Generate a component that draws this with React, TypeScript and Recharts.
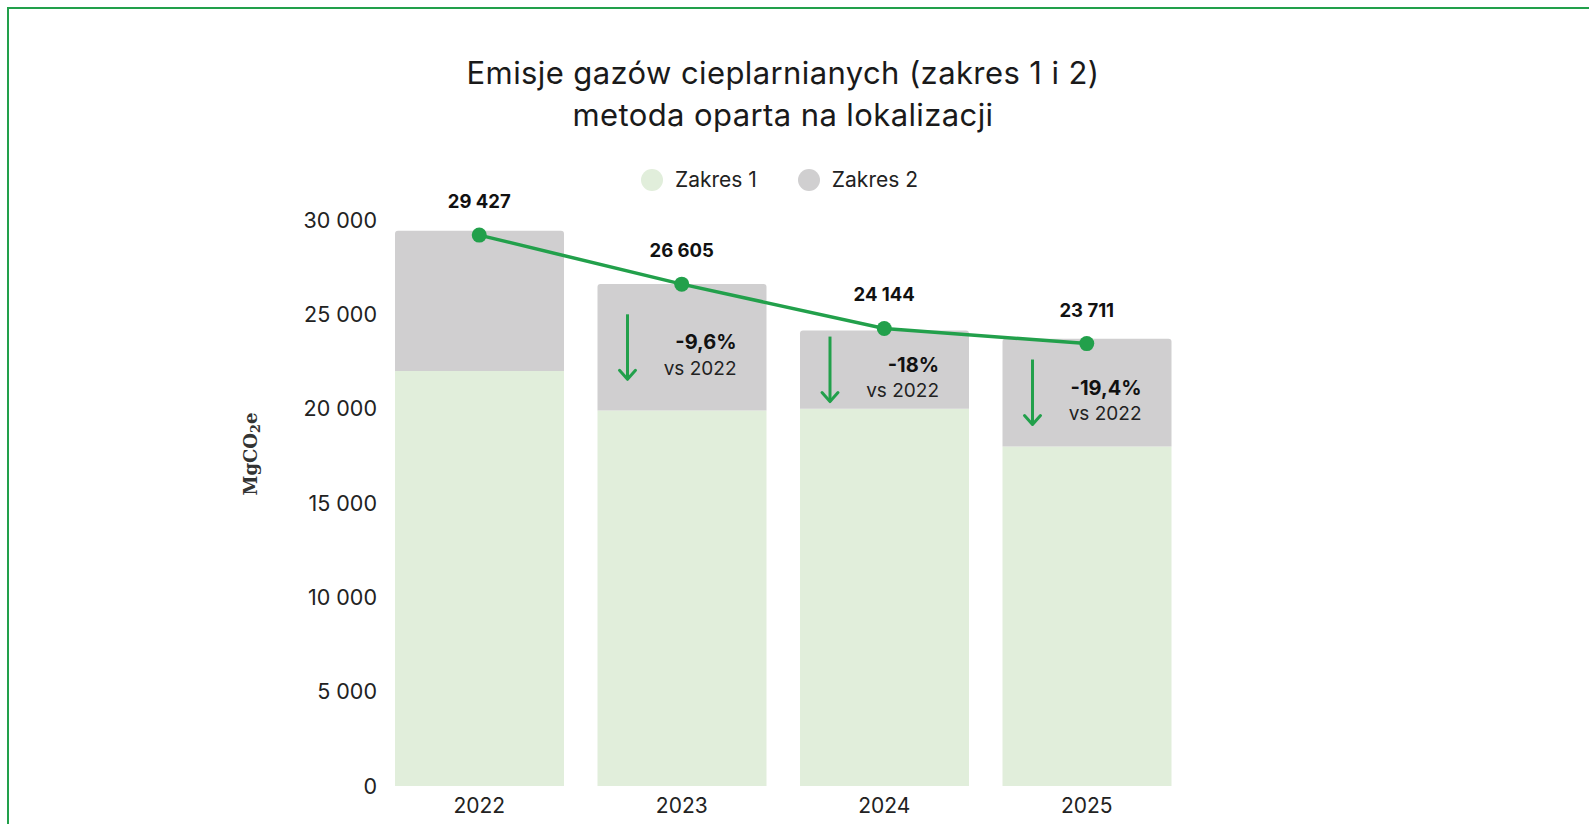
import React from 'react';
import { ComposedChart, Bar, Line, XAxis, YAxis, Legend, LabelList, Rectangle, Label } from 'recharts';

const years = ['2022', '2023', '2024', '2025'];
const scope1 = [22000, 19900, 20000, 18000];
const scope2 = [7427, 6705, 4144, 5711];
// line points as drawn (slightly below the bar tops in the original)
const trend = [29200, 26600, 24250, 23450];
const totals = [29427, 26605, 24144, 23711];
const changeVs2022 = ['', '-9,6%', '-18%', '-19,4%'];
const yTicks = [0, 5000, 10000, 15000, 20000, 25000, 30000];

const GREEN = '#22a04b';
const SCOPE1 = '#e1eedb';
const SCOPE2 = '#d0cfd0';
const FONT = 'Inter, "Noto Sans", sans-serif';

const fmt = (v: number) => String(v).replace(/\B(?=(\d{3})+(?!\d))/g, ' ');

const data = years.map((year, i) => ({
  year,
  scope1: scope1[i],
  scope2: scope2[i],
  trend: trend[i],
  totalLabel: fmt(totals[i]),
  pct: changeVs2022[i],
}));

const legendItems = [
  { name: 'Zakres 1', color: SCOPE1 },
  { name: 'Zakres 2', color: SCOPE2 },
];

function Scope2Shape(props: any) {
  const { x, y, width, height, payload } = props;
  const pct = payload?.pct;
  const cy = y + height / 2;
  const ax = x + 30;
  return (
    <g>
      <Rectangle x={x} y={y} width={width} height={height} fill={SCOPE2} radius={[3, 3, 0, 0]} />
      {pct ? (
        <g>
          <line x1={ax} x2={ax} y1={cy - 33} y2={cy + 32} stroke={GREEN} strokeWidth={3} />
          <polyline
            points={`${ax - 8},${cy + 23} ${ax},${cy + 32} ${ax + 8},${cy + 23}`}
            fill="none"
            stroke={GREEN}
            strokeWidth={3}
            strokeLinecap="round"
            strokeLinejoin="round"
          />
          <text x={x + width - 30} y={cy - 5} textAnchor="end" dominantBaseline="central"
            fontFamily={FONT} fontWeight={700} fontSize={20} fill="#111">
            {pct}
          </text>
          <text x={x + width - 30} y={cy + 21} textAnchor="end" dominantBaseline="central"
            fontFamily={FONT} fontSize={19} fill="#222">
            vs 2022
          </text>
        </g>
      ) : null}
    </g>
  );
}

function TotalLabel(props: any) {
  const { x, y, value } = props;
  return (
    <text x={x} y={y - 34} textAnchor="middle" dominantBaseline="central"
      fontFamily={FONT} fontWeight={700} fontSize={18.5} fill="#111">
      {value}
    </text>
  );
}

function UnitLabel(props: any) {
  const { viewBox } = props;
  const cx = viewBox.x - 28;
  const cy = viewBox.y + 234;
  return (
    <text x={cx} y={cy} transform={`rotate(-90, ${cx}, ${cy})`} textAnchor="middle"
      dominantBaseline="central" fontFamily='"DejaVu Serif", serif' fontWeight={700}
      fontSize={18} fill="#333">
      MgCO<tspan dy={5} fontSize={13}>2</tspan><tspan dy={-5}>e</tspan>
    </text>
  );
}

function LegendContent() {
  return (
    <div style={{ display: 'flex', alignItems: 'center', gap: 41, fontFamily: FONT, fontSize: 21, color: '#222' }}>
      {legendItems.map((it) => (
        <div key={it.name} style={{ display: 'flex', alignItems: 'center', gap: 12 }}>
          <span style={{ width: 22, height: 22, borderRadius: '50%', background: it.color, display: 'inline-block' }} />
          <span style={{ lineHeight: '22px' }}>{it.name}</span>
        </div>
      ))}
    </div>
  );
}

export default function App() {
  return (
    <div style={{ position: 'fixed', left: 0, top: 0, width: 1589, height: 824, background: '#fff', overflow: 'hidden' }}>
      <div style={{
        position: 'absolute', left: 7, top: 7, width: 1590, height: 830,
        borderTop: `2px solid ${GREEN}`, borderLeft: `2px solid ${GREEN}`,
      }} />
      <div style={{
        position: 'absolute', left: 0, top: 52, width: 1566, textAlign: 'center',
        fontFamily: FONT, fontSize: 31, letterSpacing: 0.4, lineHeight: '42px', color: '#1a1a1a',
      }}>
        Emisje gazów cieplarnianych (zakres 1 i 2)<br />metoda oparta na lokalizacji
      </div>
      <div style={{ position: 'absolute', left: 0, top: 0 }}>
        <ComposedChart
          width={1589}
          height={824}
          data={data}
          margin={{ top: 220, right: 401, bottom: 6, left: 278 }}
        >
          <XAxis
            dataKey="year"
            height={32}
            axisLine={false}
            tickLine={false}
            tickSize={0}
            tickMargin={12}
            tick={{ fontFamily: FONT, fontSize: 21, fill: '#222' }}
          />
          <YAxis
            width={100}
            domain={[0, 30000]}
            ticks={yTicks}
            axisLine={false}
            tickLine={false}
            tickSize={0}
            tickMargin={1}
            tickFormatter={fmt}
            tick={{ fontFamily: FONT, fontSize: 21.5, fill: '#222' }}
          >
            <Label content={<UnitLabel />} />
          </YAxis>
          <Legend
            layout="horizontal"
            align="center"
            verticalAlign="middle"
            content={<LegendContent />}
            wrapperStyle={{ top: 169, left: 641, width: 'auto', height: 22 }}
          />
          <Bar dataKey="scope1" name="Zakres 1" stackId="s" fill={SCOPE1} barSize={169} isAnimationActive={false} />
          <Bar dataKey="scope2" name="Zakres 2" stackId="s" fill={SCOPE2} barSize={169} shape={<Scope2Shape />} isAnimationActive={false} />
          <Line
            dataKey="trend"
            type="linear"
            stroke={GREEN}
            strokeWidth={3.5}
            dot={{ r: 7.5, fill: GREEN, stroke: GREEN, strokeWidth: 0 }}
            activeDot={false}
            legendType="none"
            isAnimationActive={false}
          >
            <LabelList dataKey="totalLabel" content={<TotalLabel />} />
          </Line>
        </ComposedChart>
      </div>
    </div>
  );
}
